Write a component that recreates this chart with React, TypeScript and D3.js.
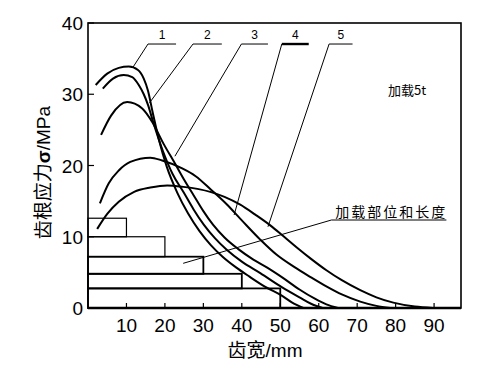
import React from 'react';
import * as d3 from 'd3';

// stress curves for loading cases 1..5 (齿宽 mm, 齿根应力 MPa)
const curve1: [number, number][] = [
  [2, 31.3], [5, 32.9], [8, 33.7], [10.6, 33.9], [13, 33.4], [14.5, 32.2], [15.6, 30.5],
  [16.8, 27.5], [18.5, 23.5], [20.5, 19.8], [23.2, 16.2], [26, 13.3], [29, 10.8], [32, 8.8],
  [35, 7.2], [38.5, 5.7], [42, 4.4], [46, 3.0], [50.5, 1.7], [53, 0.8], [56, 0],
];
const curve2: [number, number][] = [
  [3.85, 30.8], [6.5, 32.2], [9.3, 32.7], [11.5, 32.4], [13.2, 31.3], [14.5, 30], [15.6, 28.5],
  [17, 26], [19.5, 22], [22, 18.8], [24.9, 16.2], [27.5, 13.8], [30.1, 11.7], [33, 9.8],
  [36, 8.2], [40, 6.5], [44.8, 4.9], [50.5, 2.9], [55, 1.5], [58, 0.6], [61, 0],
];
const curve3: [number, number][] = [
  [3.4, 24.3], [6, 27], [10.2, 28.9], [14.1, 28], [16.7, 26.1], [19.7, 23], [22.7, 20.2],
  [25, 18], [27.5, 15.8], [30, 13.6], [32.5, 11.7], [35.5, 9.9], [39, 8.3], [43, 6.8],
  [46.5, 5.7], [50.5, 4.3], [55, 2.6], [59, 1.3], [62, 0.5], [65, 0],
];
const curve4: [number, number][] = [
  [3.1, 14.7], [5.4, 17.5], [8, 19.3], [11, 20.5], [16.2, 21.1], [19.3, 20.7], [24.5, 19.6],
  [28, 18.5], [32, 16.6], [36, 14.6], [40, 12.3], [44.8, 9.6], [49, 7.5], [53.5, 5.8],
  [58, 4.3], [62.1, 3.0], [66, 1.9], [70.8, 0.9], [75, 0.3], [78.6, 0],
];
const curve5: [number, number][] = [
  [2.4, 11.1], [5, 13.2], [8, 14.9], [12, 16.3], [16.2, 16.9], [20.6, 17.2], [24.8, 17.0],
  [31.8, 16.3], [35.5, 15.6], [39.6, 14.5], [43.5, 13.1], [47.4, 11.6], [51, 10.0], [54.3, 8.5],
  [58, 6.9], [62, 5.3], [66, 3.9], [70.8, 2.5], [75, 1.5], [79.4, 0.75], [85, 0.2], [89.7, 0],
];
const curves = [curve1, curve2, curve3, curve4, curve5];

// loading position blocks: length along tooth width, band in stress units
const blockLength = [10, 20, 30, 40, 50];
const blockTop = [12.6, 10, 7.2, 4.8, 2.75];
const blockBottom = [10, 7.2, 4.8, 2.75, 0];

// curve labels: number, horizontal shelf [x0, x1, y], leader end [x, y]
const labelNames = ['1', '2', '3', '4', '5'];
const labelShelf: [number, number, number][] = [
  [15.6, 22.9, 37.05], [27.3, 34.8, 37.05], [39.9, 46.8, 37.05], [50.4, 57.4, 37.05], [62.7, 68.8, 37.05],
];
const labelTarget: [number, number][] = [
  [11.7, 33.8], [16.0, 28.8], [22.6, 21.3], [38, 13.05], [46.8, 11.4],
];

const xTicks = [10, 20, 30, 40, 50, 60, 70, 80, 90];
const yTicks = [0, 10, 20, 30, 40];

const W = 483;
const H = 370;
const latin = 'Liberation Sans, Arial, sans-serif';
const cjk = '"Noto Sans CJK SC", sans-serif';

export default function App() {
  const x = d3.scaleLinear().domain([0, 97]).range([88, 461]);
  const y = d3.scaleLinear().domain([0, 40]).range([308, 23]);

  const line = d3.line<[number, number]>()
    .x(d => x(d[0]))
    .y(d => y(d[1]))
    .curve(d3.curveMonotoneX);

  return (
    <svg width={W} height={H} style={{ position: 'absolute', left: 0, top: 0, background: '#fff' }}>
      {/* frame */}
      <rect x={x(0)} y={y(40)} width={x(97) - x(0)} height={y(0) - y(40)} fill="none" stroke="#000" strokeWidth={1.6} />
      <line x1={x(0)} x2={x(97)} y1={y(0)} y2={y(0)} stroke="#000" strokeWidth={2.4} />

      {/* ticks */}
      {xTicks.map(t => (
        <g key={'x' + t}>
          <line x1={x(t)} x2={x(t)} y1={y(0)} y2={y(0) - 5} stroke="#000" strokeWidth={1.2} />
          <text x={x(t)} y={332} textAnchor="middle" fontFamily={latin} fontSize={19}>{t}</text>
        </g>
      ))}
      {yTicks.map(t => (
        <g key={'y' + t}>
          <line x1={x(0)} x2={x(0) + 6} y1={y(t)} y2={y(t)} stroke="#000" strokeWidth={1.2} />
          <text x={83} y={y(t) + 7} textAnchor="end" fontFamily={latin} fontSize={19}>{t}</text>
        </g>
      ))}

      {/* axis titles */}
      <text x={265} y={357} textAnchor="middle" fontSize={19}>
        <tspan fontFamily={cjk}>齿宽</tspan><tspan fontFamily={latin}>/mm</tspan>
      </text>
      <text transform={`translate(50,${y(19)}) rotate(-90)`} textAnchor="middle" fontSize={19}>
        <tspan fontFamily={cjk}>齿根应力</tspan>
        <tspan fontFamily={latin} fontWeight="bold">σ</tspan>
        <tspan fontFamily={latin}>/MPa</tspan>
      </text>

      {/* loading blocks */}
      {blockLength.map((len, i) => (
        <rect key={'b' + i} x={x(0)} y={y(blockTop[i])} width={x(len) - x(0)}
          height={y(blockBottom[i]) - y(blockTop[i])} fill="none" stroke="#000"
          strokeWidth={i >= 2 ? 1.8 : 1.2} />
      ))}

      {/* stress curves */}
      {curves.map((c, i) => (
        <path key={'c' + i} d={line(c) || ''} fill="none" stroke="#000" strokeWidth={2} />
      ))}

      {/* curve labels */}
      {labelNames.map((n, i) => {
        const s = labelShelf[i];
        const t = labelTarget[i];
        return (
          <g key={'l' + i}>
            <line x1={x(s[0])} x2={x(s[1])} y1={y(s[2])} y2={y(s[2])} stroke="#000" strokeWidth={i === 3 ? 2.4 : 1} />
            <line x1={x(s[0])} y1={y(s[2])} x2={x(t[0])} y2={y(t[1])} stroke="#000" strokeWidth={1} />
            <text x={(x(s[0]) + x(s[1])) / 2} y={y(s[2]) - 5} textAnchor="middle" fontFamily={latin} fontSize={12}>{n}</text>
          </g>
        );
      })}

      {/* annotations */}
      <text x={x(78)} y={95} fontFamily={cjk} fontSize={13}>加载5t</text>
      <line x1={x(63.3)} x2={x(93.2)} y1={y(12.35)} y2={y(12.35)} stroke="#000" strokeWidth={1} />
      <line x1={x(63.3)} y1={y(12.35)} x2={x(24.75)} y2={y(6.27)} stroke="#000" strokeWidth={1} />
      <text x={x(64.3)} y={y(12.35) - 3} fontFamily={cjk} fontSize={14} textLength={110} lengthAdjust="spacing">加载部位和长度</text>
    </svg>
  );
}
